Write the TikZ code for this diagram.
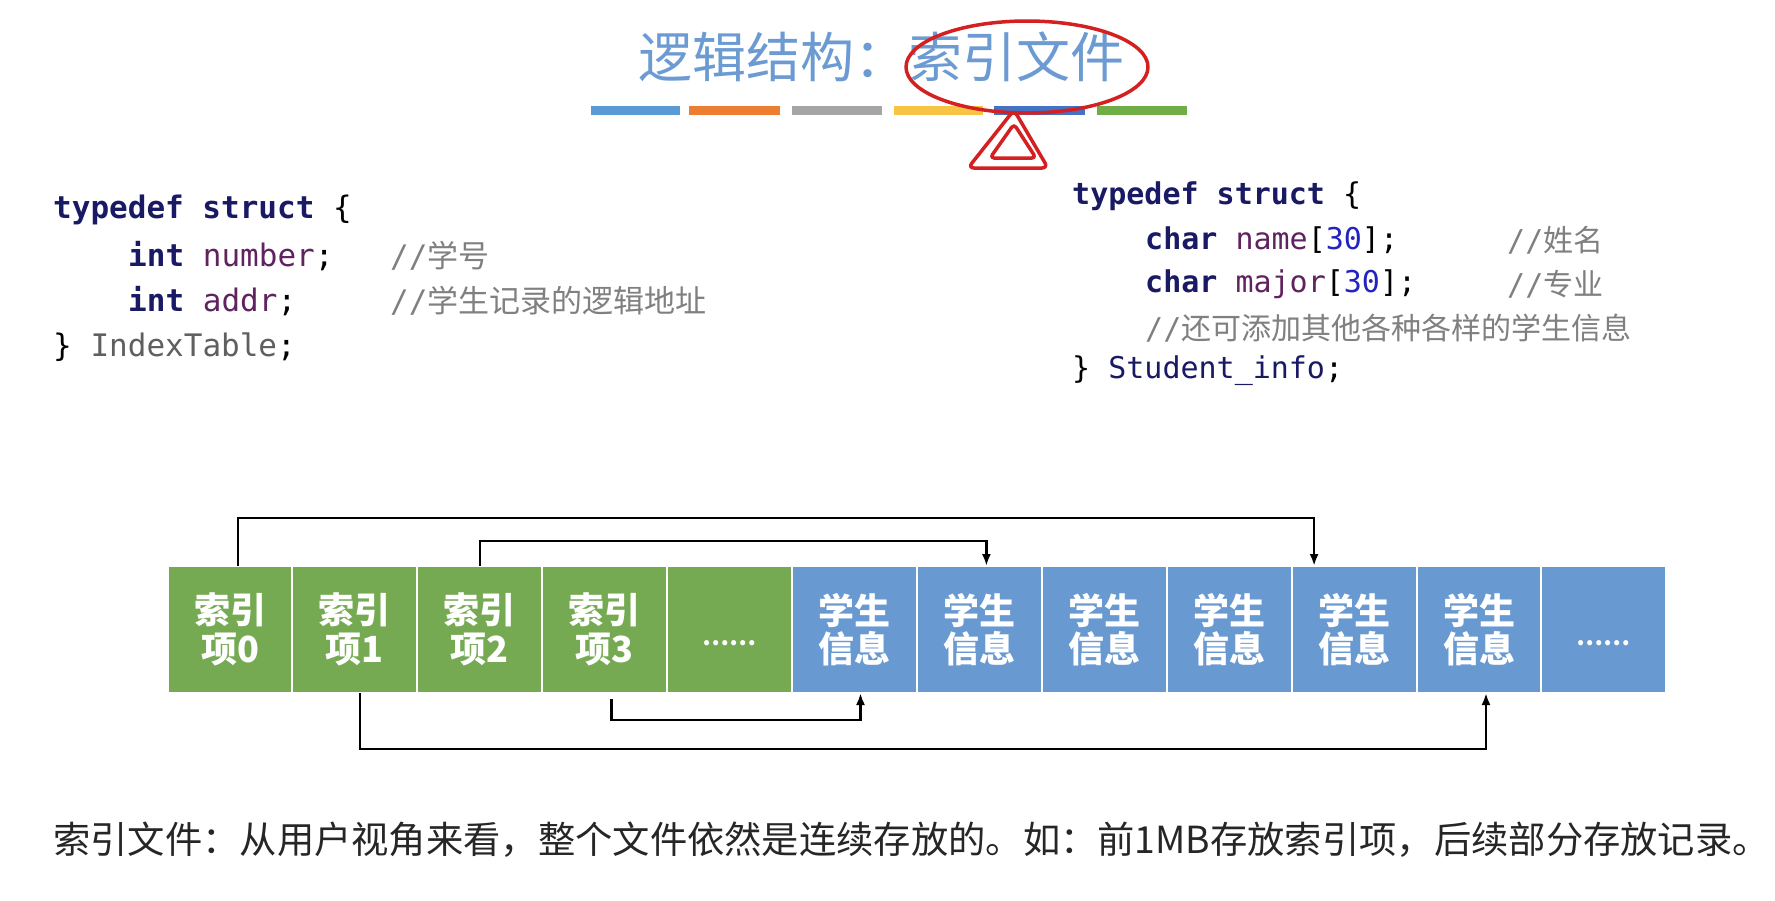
\documentclass[tikz,border=0pt]{standalone}
\usepackage{fontspec}
\setmainfont{Noto Sans CJK SC}
\setmonofont{DejaVu Sans Mono}
\newfontfamily\cjk{Noto Sans CJK SC}
\usepackage{tikz}
\usetikzlibrary{arrows.meta, positioning}
\definecolor{titleblue}{RGB}{107, 155, 210}
\definecolor{barblue}{RGB}{91, 155, 213}
\definecolor{barorange}{RGB}{237, 125, 49}
\definecolor{bargray}{RGB}{165, 165, 165}
\definecolor{baryellow}{RGB}{247, 196, 67}
\definecolor{bardark}{RGB}{68, 114, 196}
\definecolor{bargreen}{RGB}{112, 173, 71}
\definecolor{idxgreen}{RGB}{117, 170, 82}
\definecolor{infoblue}{RGB}{104, 153, 209}
\definecolor{kwnavy}{RGB}{25, 25, 100}
\definecolor{varpurple}{RGB}{95, 35, 95}
\definecolor{numblue}{RGB}{35, 35, 190}
\definecolor{cmgray}{RGB}{128, 128, 128}
\definecolor{typegray}{RGB}{95, 95, 95}
\definecolor{penred}{RGB}{212, 32, 32}

\begin{document}
\begin{tikzpicture}[x=1pt, y=-1pt,
		cell/.style={minimum width=124.9pt, minimum height=127pt, draw=white, line width=2pt,
			inner sep=0pt, outer sep=0pt, text=white, align=center,
			font=\cjk\bfseries\fontsize{36}{38.5}\selectfont},
		idx/.style={cell, fill=idxgreen},
		info/.style={cell, fill=infoblue},
		link/.style={line width=2.5pt, -{Latex[length=12pt, width=9pt]}},
		lcode/.style={anchor=west, inner sep=0pt, font=\ttfamily\fontsize{31}{31}\selectfont},
		rcode/.style={anchor=west, inner sep=0pt, font=\ttfamily\fontsize{30}{30}\selectfont},
		colorbar/.style={line width=9pt},
		redpen/.style={penred, line width=3.5pt, line join=round, line cap=round}]
			\fill[white] (0, 0) rectangle (1775, 900);
			\useasboundingbox (0, 0) rectangle (1775, 900);

			% title and its coloured bars
			\node[text=titleblue, font=\cjk\fontsize{54}{60}\selectfont] (title) at (881, 57) {逻辑结构：索引文件};
			\draw[colorbar, barblue]   (591, 110) -- (680, 110);
			\draw[colorbar, barorange] (689, 110) -- (780, 110);
			\draw[colorbar, bargray]   (792, 110) -- (882, 110);
			\draw[colorbar, baryellow] (894, 110) -- (983, 110);
			\draw[colorbar, bardark]   (994, 110) -- (1085, 110);
			\draw[colorbar, bargreen]  (1097, 110) -- (1187, 110);

			% hand drawn mark
			\draw[redpen] (1027, 67) ellipse [x radius=121, y radius=46];
			\draw[redpen, rounded corners=6pt] (1014, 110) -- (968, 168) -- (1048, 168) -- cycle;
			\draw[redpen, rounded corners=4pt] (1014, 124) -- (990, 158) -- (1036, 158) -- cycle;

			% index table struct
			\node[lcode] (l1) at (53, 210) {\textcolor{kwnavy}{\bfseries typedef struct} \{};
			\node[lcode] (l2) at (128, 256) {\textcolor{kwnavy}{\bfseries int} \textcolor{varpurple}{number};};
			\node[lcode] (l3) at (128, 301) {\textcolor{kwnavy}{\bfseries int} \textcolor{varpurple}{addr};};
			\node[lcode] (l4) at (53, 347) {\} \textcolor{typegray}{IndexTable};};
			\node[lcode, text=cmgray] (lc2) at (390, 256) {//{\cjk 学号}};
			\node[lcode, text=cmgray] (lc3) at (390, 301) {//{\cjk 学生记录的逻辑地址}};

			% student info struct
			\node[rcode] (r1) at (1072, 196) {\textcolor{kwnavy}{\bfseries typedef struct} \{};
			\node[rcode] (r2) at (1145, 240) {\textcolor{kwnavy}{\bfseries char} \textcolor{varpurple}{name}[\textcolor{numblue}{30}];};
			\node[rcode] (r3) at (1145, 284) {\textcolor{kwnavy}{\bfseries char} \textcolor{varpurple}{major}[\textcolor{numblue}{30}];};
			\node[rcode, text=cmgray] (r4) at (1145, 328) {//{\cjk 还可添加其他各种各样的学生信息}};
			\node[rcode] (r5) at (1072, 371) {\} \textcolor{kwnavy}{Student\_info};};
			\node[rcode, text=cmgray] (rc2) at (1507, 240) {//{\cjk 姓名}};
			\node[rcode, text=cmgray] (rc3) at (1507, 284) {//{\cjk 专业}};

			% the file, one cell after another
			\node[idx] (c0) at (230, 629.5) {索引\\项0};
			\node[idx, right=0pt of c0] (c1) {索引\\项1};
			\node[idx, right=0pt of c1] (c2) {索引\\项2};
			\node[idx, right=0pt of c2] (c3) {索引\\项3};
			\node[idx, right=0pt of c3] (c4) {\raisebox{-16pt}[0pt][0pt]{\fontsize{24}{24}\selectfont ……}};
			\node[info, right=0pt of c4] (c5) {学生\\信息};
			\node[info, right=0pt of c5] (c6) {学生\\信息};
			\node[info, right=0pt of c6] (c7) {学生\\信息};
			\node[info, right=0pt of c7] (c8) {学生\\信息};
			\node[info, right=0pt of c8] (c9) {学生\\信息};
			\node[info, right=0pt of c9] (c10) {学生\\信息};
			\node[info, right=0pt of c10] (c11) {\raisebox{-16pt}[0pt][0pt]{\fontsize{24}{24}\selectfont ……}};

			\draw[link] ([xshift=8pt]c0.north) -- ++(0, -48) -| ([xshift=-40pt]c9.north);
			\draw[link] (c2.north) -- ++(0, -25) -| ([xshift=7pt]c6.north);
			\draw[link] ([xshift=7pt]c3.south) ++(0, 6) -- ++(0, 21) -| ([xshift=6pt]c5.south);
			\draw[link] ([xshift=5pt]c1.south) -- ++(0, 56) -| ([xshift=7pt]c10.south);

			\node[anchor=west, inner sep=0pt, text=black!85, font=\cjk\fontsize{37.3}{40}\selectfont] (note) at (53, 840)
				{索引文件：从用户视角来看，整个文件依然是连续存放的。如：前1MB存放索引项，后续部分存放记录。};
		\end{tikzpicture}
\end{document}
